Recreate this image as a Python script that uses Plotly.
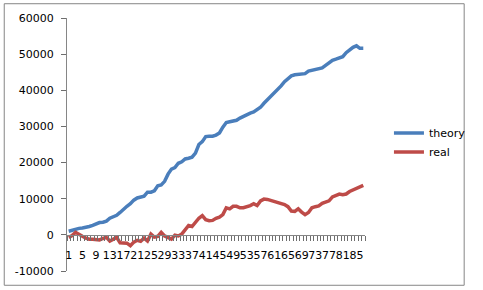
import plotly.graph_objects as go

categories = list(range(1, 88))
theory = [1000, 1300, 1600, 1800, 1900, 2000, 2300, 2600, 3100, 3400,
          3500, 3800, 4600, 5100, 5400, 6200, 7200, 7900, 8600, 9600,
          10200, 10500, 10700, 11800, 11800, 12200, 13600, 13800, 14800, 16800,
          18200, 18600, 19800, 20200, 21000, 21200, 21500, 22600, 25000, 25800,
          27200, 27300, 27300, 27600, 28200, 29800, 31100, 31300, 31400, 31700,
          32300, 32800, 33200, 33700, 34000, 34600, 35300, 36400, 37300, 38200,
          39100, 40200, 41200, 42400, 43100, 44000, 44300, 44400, 44400, 44600,
          45300, 45500, 45800, 46000, 46200, 46900, 47600, 48300, 48600, 48900,
          49300, 50400, 51200, 51900, 52300, 51600, 51600]
real = [-700, -200, 700, 0, -400, -900, -1200, -1200, -1200, -1400,
        -1000, -700, -1700, -1100, -700, -2200, -2300, -2300, -3000, -2000,
        -1500, -1800, -900, -1700, 200, -600, -400, 700, -300, -700,
        -1200, -100, -300, 200, 1300, 2600, 2300, 3600, 4600, 5300,
        4200, 3900, 4000, 4600, 4900, 5600, 7500, 7200, 7900, 7900,
        7500, 7500, 7700, 8100, 8600, 8100, 9400, 9900, 9800, 9500,
        9300, 9000, 8800, 8400, 7800, 6600, 6500, 7200, 6300, 5600,
        6200, 7500, 7800, 8000, 8700, 9100, 9400, 10500, 10800, 11300,
        11100, 11300, 12000, 12400, 12900, 13300, 13700]
y_ticks = [-10000, 0, 10000, 20000, 30000, 40000, 50000, 60000]
y_ticktext = [str(v) for v in y_ticks]
x_tickvals = categories[::4]
x_ticktext = [str(c) for c in x_tickvals]
x_boundaries = [c - 0.5 for c in categories] + [categories[-1] + 0.5]

W, H = 483, 290
L, R, T, B = 67, 105, 16, 17
pw = W - L - R
ph = H - T - B
xrange_ = [0.5, len(categories) + 0.5]

fig = go.Figure()
fig.add_trace(go.Scatter(x=categories, y=theory, mode="lines", name="theory",
                         line=dict(color="#4A7EBB", width=3.5)))
fig.add_trace(go.Scatter(x=categories, y=real, mode="lines", name="real",
                         line=dict(color="#BE4B48", width=3.5)))
# invisible trace to activate the label axis
fig.add_trace(go.Scatter(x=[categories[0]], y=[0], xaxis="x2", mode="none",
                         showlegend=False, hoverinfo="skip"))

font = dict(family="DejaVu Sans", size=11, color="black")
fig.update_layout(
    width=W, height=H,
    margin=dict(l=L, r=R, t=T, b=B, pad=0),
    paper_bgcolor="white", plot_bgcolor="white",
    font=font,
    showlegend=True,
    legend=dict(x=(403 - L) / pw, y=(H - B - 118) / ph, xanchor="left", yanchor="top",
                font=font, bgcolor="rgba(0,0,0,0)", tracegroupgap=0, itemwidth=30),
    xaxis=dict(
        range=xrange_,
        anchor="free", position=1 / 7,
        tickmode="array", tickvals=x_boundaries, ticktext=[""] * len(x_boundaries),
        ticks="outside", ticklen=5, tickcolor="#6E6E6E", tickwidth=1,
        showgrid=False, zeroline=False, layer="above traces",
        showline=True, linecolor="#868686", linewidth=1,
    ),
    xaxis2=dict(
        range=xrange_, overlaying="x",
        anchor="free", position=1 / 7, side="bottom",
        tickmode="array", tickvals=x_tickvals, ticktext=x_ticktext,
        tickangle=0, ticks="", showgrid=False, zeroline=False, showline=False,
        ticklabelstandoff=12, tickfont=font,
    ),
    yaxis=dict(
        range=[-10000, 60000], tickmode="array", tickvals=y_ticks, ticktext=y_ticktext,
        ticks="outside", ticklen=5, tickcolor="#6E6E6E",
        showgrid=False, zeroline=False,
        showline=True, linecolor="#868686", linewidth=1,
        tickfont=font, ticklabelstandoff=5,
    ),
)
fig.add_shape(type="rect", xref="paper", yref="paper",
              x0=(1.5 - L) / pw, x1=(W - 1.5 - L) / pw,
              y0=-(B - 2.5) / ph, y1=1 + (T - 1.5) / ph,
              line=dict(color="#868686", width=1), fillcolor="rgba(0,0,0,0)")
fig.write_html("out.html")
